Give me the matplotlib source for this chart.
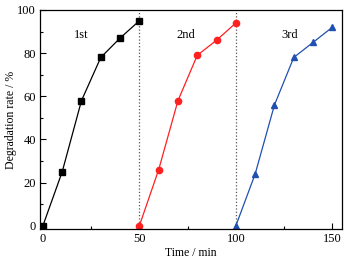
import matplotlib
matplotlib.use("Agg")
import matplotlib.pyplot as plt
from matplotlib.ticker import MultipleLocator

plt.rcParams['font.family'] = ['Liberation Serif', 'DejaVu Serif']

# data
t1 = [0, 10, 20, 30, 40, 50]
r1 = [0, 25, 58, 78, 87, 95]
t2 = [50, 60, 70, 80, 90, 100]
r2 = [0, 26, 58, 79, 86, 94]
t3 = [100, 110, 120, 130, 140, 150]
r3 = [0, 24, 56, 78, 85, 92]
run_labels = ["1st", "2nd", "3rd"]
label_x = [20, 74, 128]
label_y = 88.5

fig = plt.figure(figsize=(3.51, 2.62), dpi=100)
ax = fig.add_axes([40/351, 33/262, 302/351, 219/262])

ax.axvline(50, color='#555555', ls=':', lw=0.9)
ax.axvline(100, color='#555555', ls=':', lw=0.9)

ax.plot(t1, r1, color='black', marker='s', ms=4.5, lw=0.9)
ax.plot(t2, r2, color='#ff2020', marker='o', ms=4.5, lw=0.9)
ax.plot(t3, r3, color='#2050b0', marker='^', ms=5, lw=0.9)

for s, x in zip(run_labels, label_x):
  ax.text(x, label_y, s, fontsize=9, ha='center', va='center')

ax.set_xlim(-1.5, 155)
ax.set_ylim(-1.5, 100)
ax.xaxis.set_major_locator(MultipleLocator(50))
ax.xaxis.set_minor_locator(MultipleLocator(25))
ax.yaxis.set_major_locator(MultipleLocator(20))
ax.yaxis.set_minor_locator(MultipleLocator(10))
ax.tick_params(direction='in', labelsize=9, length=4, width=0.8, pad=3)
ax.tick_params(which='minor', direction='in', length=2.5, width=0.8)
for sp in ax.spines.values():
  sp.set_linewidth(0.9)

ax.set_xlabel("Time / min", fontsize=8.5, labelpad=1)
ax.set_ylabel("Degradation rate / %", fontsize=8.5, labelpad=0)

fig.savefig("out.png", dpi=100)
